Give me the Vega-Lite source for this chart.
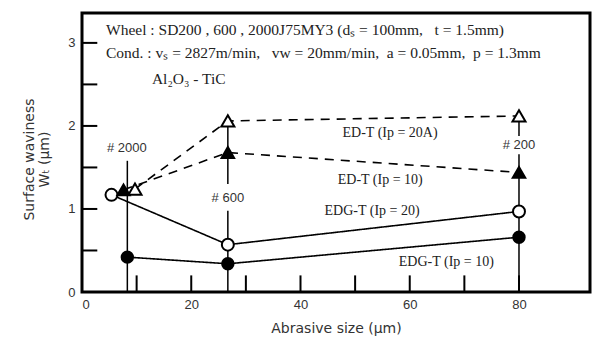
{
  "$schema": "https://vega.github.io/schema/vega-lite/v6.json",
  "width": 508,
  "height": 279,
  "autosize": "none",
  "padding": {"left": 82, "top": 13, "right": 7, "bottom": 46},
  "background": "white",
  "config": {
    "view": {"stroke": "black", "strokeWidth": 3},
    "axis": {"grid": false, "domain": false, "ticks": false, "labelColor": "#333", "titleColor": "#333", "labelFont": "Liberation Sans", "titleFont": "DejaVu Sans", "labelFontSize": 13, "titleFontSize": 14, "titleFontWeight": "normal"}
  },
  "datasets": {
    "series": [
      {"series": "EDG-T (Ip=10)", "x": 8.3, "y": 0.42},
      {"series": "EDG-T (Ip=10)", "x": 26.7, "y": 0.34},
      {"series": "EDG-T (Ip=10)", "x": 80, "y": 0.66},
      {"series": "EDG-T (Ip=20)", "x": 5.4, "y": 1.17},
      {"series": "EDG-T (Ip=20)", "x": 26.7, "y": 0.57},
      {"series": "EDG-T (Ip=20)", "x": 80, "y": 0.97},
      {"series": "ED-T (Ip=10)", "x": 7.6, "y": 1.23},
      {"series": "ED-T (Ip=10)", "x": 26.7, "y": 1.68},
      {"series": "ED-T (Ip=10)", "x": 80, "y": 1.44},
      {"series": "ED-T (Ip=20A)", "x": 9.7, "y": 1.24},
      {"series": "ED-T (Ip=20A)", "x": 26.7, "y": 2.06},
      {"series": "ED-T (Ip=20A)", "x": 80, "y": 2.12}
    ],
    "rules": [
      {"x": 8.3, "y1": 0, "y2": 1.58},
      {"x": 26.7, "y1": 1.30, "y2": 2.05},
      {"x": 26.7, "y1": 0, "y2": 0.98},
      {"x": 80, "y1": 1.88, "y2": 2.11},
      {"x": 80, "y1": 0, "y2": 1.66}
    ],
    "xticks": [{"v": 10}, {"v": 20}, {"v": 30}, {"v": 40}, {"v": 50}, {"v": 60}, {"v": 70}, {"v": 80}],
    "yticks": [{"v": 0.5}, {"v": 1}, {"v": 1.5}, {"v": 2}, {"v": 2.5}, {"v": 3}],
    "grit": [
      {"x": 8.2, "y": 1.73, "label": "# 2000"},
      {"x": 26.7, "y": 1.13, "label": "# 600"},
      {"x": 80, "y": 1.77, "label": "# 200"}
    ],
    "names": [
      {"x": 56.4, "y": 1.92, "label": "ED-T (Ip = 20A)"},
      {"x": 54.6, "y": 1.35, "label": "ED-T (Ip = 10)"},
      {"x": 53.1, "y": 0.98, "label": "EDG-T (Ip = 20)"},
      {"x": 66.7, "y": 0.365, "label": "EDG-T (Ip = 10)"}
    ],
    "header": [
      {"x": 4.4, "y": 3.15, "label": "Wheel : SD200 , 600 , 2000J75MY3 (dₛ = 100mm,\u00a0\u00a0 t = 1.5mm)"},
      {"x": 4.4, "y": 2.88, "label": "Cond. : vₛ = 2827m/min,\u00a0\u00a0 vw = 20mm/min,\u00a0 a = 0.05mm,\u00a0 p = 1.3mm"},
      {"x": 12.8, "y": 2.57, "label": "Al₂O₃ - TiC"}
    ]
  },
  "layer": [
    {
      "data": {"name": "rules"},
      "mark": {"type": "rule", "color": "black", "strokeWidth": 1.5},
      "encoding": {
        "x": {"field": "x", "type": "quantitative", "scale": {"domain": [0, 93], "nice": false, "zero": false},
          "axis": {"values": [0, 20, 40, 60, 80], "labelPadding": 6, "title": "Abrasive size  (μm)", "titleY": 36, "titleBaseline": "middle"}},
        "y": {"field": "y1", "type": "quantitative", "scale": {"domain": [0, 3.36], "nice": false},
          "axis": {"values": [0, 1, 2, 3], "format": "d", "labelPadding": 7, "title": ["Surface waviness", "Wₜ  (μm)"], "titleX": -53, "titleY": 146, "titleAngle": -90, "titleAlign": "center", "titleBaseline": "middle", "titleLineHeight": 15}},
        "y2": {"field": "y2"}
      }
    },
    {
      "data": {"name": "xticks"},
      "mark": {"type": "rule", "color": "black", "strokeWidth": 2},
      "encoding": {
        "x": {"field": "v", "type": "quantitative"},
        "y": {"datum": 0, "type": "quantitative"},
        "y2": {"datum": 0.2}
      }
    },
    {
      "data": {"name": "yticks"},
      "mark": {"type": "rule", "color": "black", "strokeWidth": 2},
      "encoding": {
        "y": {"field": "v", "type": "quantitative"},
        "x": {"datum": 0, "type": "quantitative"},
        "x2": {"datum": 2.8}
      }
    },
    {
      "data": {"name": "series"},
      "mark": {"type": "line", "color": "black", "strokeWidth": 1.6},
      "encoding": {
        "x": {"field": "x", "type": "quantitative"},
        "y": {"field": "y", "type": "quantitative"},
        "detail": {"field": "series"},
        "order": {"field": "x"},
        "strokeDash": {"field": "series", "type": "nominal", "legend": null,
          "scale": {"domain": ["EDG-T (Ip=10)", "EDG-T (Ip=20)", "ED-T (Ip=10)", "ED-T (Ip=20A)"], "range": [[1, 0], [1, 0], [9, 7], [9, 7]]}},
        "strokeWidth": {"field": "series", "type": "nominal", "legend": null,
          "scale": {"domain": ["EDG-T (Ip=10)", "EDG-T (Ip=20)", "ED-T (Ip=10)", "ED-T (Ip=20A)"], "range": [1.5, 1.5, 2.2, 2.2]}}
      }
    },
    {
      "data": {"name": "series"},
      "mark": {"type": "point", "filled": false, "stroke": "black", "strokeWidth": 2, "opacity": 1},
      "encoding": {
        "x": {"field": "x", "type": "quantitative"},
        "y": {"field": "y", "type": "quantitative"},
        "shape": {"field": "series", "type": "nominal", "legend": null,
          "scale": {"domain": ["EDG-T (Ip=10)", "EDG-T (Ip=20)", "ED-T (Ip=10)", "ED-T (Ip=20A)"], "range": ["circle", "circle", "triangle-up", "triangle-up"]}},
        "fill": {"field": "series", "type": "nominal", "legend": null,
          "scale": {"domain": ["EDG-T (Ip=10)", "EDG-T (Ip=20)", "ED-T (Ip=10)", "ED-T (Ip=20A)"], "range": ["black", "white", "black", "white"]}},
        "size": {"field": "series", "type": "nominal", "legend": null,
          "scale": {"domain": ["EDG-T (Ip=10)", "EDG-T (Ip=20)", "ED-T (Ip=10)", "ED-T (Ip=20A)"], "range": [130, 170, 130, 150]}}
      }
    },
    {
      "data": {"name": "grit"},
      "mark": {"type": "text", "font": "Liberation Sans", "fontSize": 13, "color": "#333", "align": "center", "baseline": "middle"},
      "encoding": {
        "x": {"field": "x", "type": "quantitative"},
        "y": {"field": "y", "type": "quantitative"},
        "text": {"field": "label"}
      }
    },
    {
      "data": {"name": "names"},
      "mark": {"type": "text", "font": "Liberation Serif", "fontSize": 14, "color": "#222", "align": "center", "baseline": "middle"},
      "encoding": {
        "x": {"field": "x", "type": "quantitative"},
        "y": {"field": "y", "type": "quantitative"},
        "text": {"field": "label"}
      }
    },
    {
      "data": {"name": "header"},
      "mark": {"type": "text", "font": "Liberation Serif", "fontSize": 15.5, "color": "#222", "align": "left", "baseline": "middle"},
      "encoding": {
        "x": {"field": "x", "type": "quantitative"},
        "y": {"field": "y", "type": "quantitative"},
        "text": {"field": "label"}
      }
    }
  ]
}
